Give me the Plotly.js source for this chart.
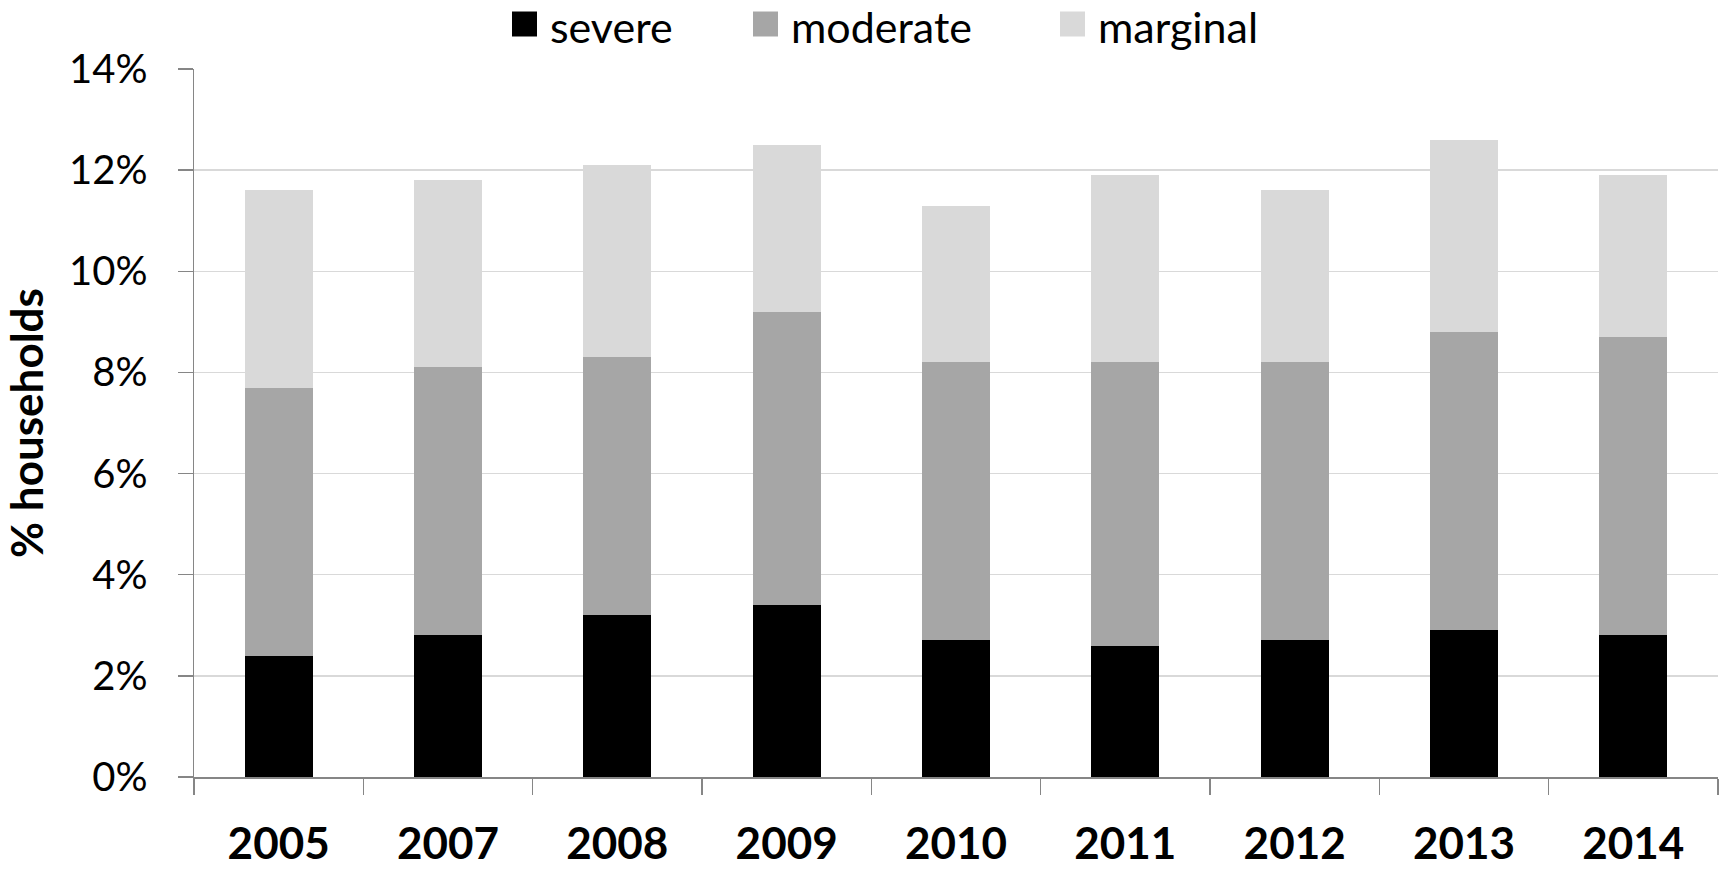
<!DOCTYPE html>
<html>
<head>
<meta charset="utf-8">
<script src="https://cdn.plot.ly/plotly-3.0.1.min.js"></script>
<style>
  html, body { margin: 0; padding: 0; background: #fff; }
  #chart { width: 1725px; height: 869px; }
</style>
</head>
<body>
<div id="chart"></div>
<script>
// годы и доли домохозяйств (%)
const years = ['2005', '2007', '2008', '2009', '2010', '2011', '2012', '2013', '2014'];
const severe = [2.4, 2.8, 3.2, 3.4, 2.7, 2.6, 2.7, 2.9, 2.8];
const moderate = [5.3, 5.3, 5.1, 5.8, 5.5, 5.6, 5.5, 5.9, 5.9];
const marginal = [3.9, 3.7, 3.8, 3.3, 3.1, 3.7, 3.4, 3.8, 3.2];

const seriesNames = ['severe', 'moderate', 'marginal'];
const seriesColors = ['#000000', '#a6a6a6', '#d9d9d9'];
const seriesValues = [severe, moderate, marginal];

// размеры области графика в пикселях
const W = 1725, H = 869;
const M = { l: 194, r: 7, t: 69, b: 92 };
const plotW = W - M.l - M.r;
const plotH = H - M.t - M.b;
const px2x = (px) => (px - M.l) / plotW;
const px2y = (py) => (H - M.b - py) / plotH;

const font = 'Lato, "Open Sans", sans-serif';

const data = seriesNames.map((name, i) => ({
    type: 'bar',
    name: name,
    x: years,
    y: seriesValues[i],
    marker: { color: seriesColors[i], line: { width: 0 } },
    showlegend: false,
    hoverinfo: 'x+y+name',
}));

// легенда руками: квадраты побольше, чем умеет встроенная
const legendLeft = [512, 753, 1060];
const sq = 25, legendMid = 24;
const shapes = [];
const annotations = [];
seriesNames.forEach((name, i) => {
    shapes.push({
        type: 'rect', xref: 'paper', yref: 'paper',
        x0: px2x(legendLeft[i]), x1: px2x(legendLeft[i] + sq),
        y0: px2y(legendMid + sq / 2), y1: px2y(legendMid - sq / 2),
        fillcolor: seriesColors[i], line: { width: 0 },
    });
    annotations.push({
        xref: 'paper', yref: 'paper',
        x: px2x(legendLeft[i] + sq + 12), y: px2y(legendMid + 3),
        xanchor: 'left', yanchor: 'middle',
        borderpad: 0,
        text: name, showarrow: false,
        font: { family: font, size: 43, color: '#000' },
    });
});

const layout = {
    width: W,
    height: H,
    margin: M,
    paper_bgcolor: '#fff',
    plot_bgcolor: '#fff',
    barmode: 'stack',
    bargap: 0.6,
    showlegend: false,
    xaxis: {
        type: 'category',
        showline: true,
        linecolor: '#868686',
        linewidth: 1.5,
        showgrid: false,
        ticks: 'outside',
        tickson: 'boundaries',
        ticklen: 16,
        tickwidth: 1.5,
        tickcolor: '#868686',
        ticklabelstandoff: 28,
        tickfont: { family: font, size: 44, color: '#000', weight: 'bold' },
        fixedrange: true,
    },
    yaxis: {
        range: [0, 14],
        dtick: 2,
        ticksuffix: '%',
        showline: true,
        linecolor: '#868686',
        linewidth: 1.5,
        showgrid: true,
        gridcolor: '#d9d9d9',
        gridwidth: 1.5,
        zeroline: false,
        ticks: 'outside',
        ticklen: 15,
        tickwidth: 1.5,
        tickcolor: '#868686',
        ticklabelstandoff: 22,
        tickfont: { family: font, size: 40, color: '#000' },
        title: {
            text: '% households',
            font: { family: font, size: 44, color: '#000', weight: 'bold' },
            standoff: 23,
        },
        automargin: false,
        fixedrange: true,
    },
    shapes: shapes,
    annotations: annotations,
};

Plotly.newPlot('chart', data, layout, { displayModeBar: false, staticPlot: true });
</script>
</body>
</html>
